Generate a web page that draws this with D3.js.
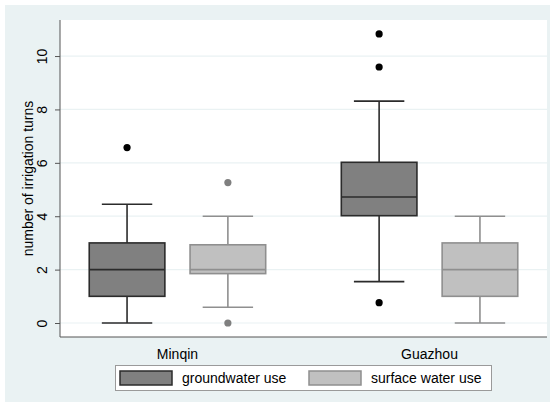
<!DOCTYPE html>
<html><head><meta charset="utf-8">
<script src="https://cdn.jsdelivr.net/npm/d3@7"></script>
<style>body{margin:0;background:#fff}svg{display:block}text{font-family:"Liberation Sans",Arial,sans-serif}</style>
</head><body>
<script>
const categories = ["Minqin", "Guazhou"];
const seriesNames = ["groundwater use", "surface water use"];
// [min whisker, q1, median, q3, max whisker]
const groundwater = [[0, 1, 2, 3, 4.45], [1.55, 4.02, 4.72, 6.02, 8.31]];
const surfacewater = [[0.59, 1.85, 2.0, 2.93, 4.0], [0, 1, 2, 3, 4]];
const groundwaterOutliers = [[6.57], [10.83, 9.59, 0.76]];
const surfacewaterOutliers = [[5.26, 0], []];
const yTicks = [0, 2, 4, 6, 8, 10];
const yTitle = "number of irrigation turns";

(function(){
const W = 557, H = 407;
const svg = d3.select("body").append("svg").attr("width", W).attr("height", H);
const bg = "#eaf2f3";
svg.append("rect").attr("x", 5).attr("y", 5).attr("width", 545).attr("height", 397).attr("fill", bg);

const pl = 60, pr = 547, pt = 20, pb = 337;
svg.append("rect").attr("x", pl).attr("y", pt).attr("width", pr - pl).attr("height", pb - pt).attr("fill", "#fff");

const y = d3.scaleLinear().domain([-0.524, 11.35]).range([pb, pt]);
const x = d3.scalePoint().domain(categories).range([pl, pr]).padding(0.466);
const step = x.step();
const off = step * 0.2, bw = step * 0.3, cw = step * 0.2;

// gridlines
svg.append("g").selectAll("line").data(yTicks).join("line")
  .attr("x1", pl).attr("x2", pr).attr("y1", d => y(d)).attr("y2", d => y(d))
  .attr("stroke", bg).attr("stroke-width", 1.2);

// y axis
const yAxis = d3.axisLeft(y).tickValues(yTicks).tickSize(5).tickFormat(d3.format("d"));
const ga = svg.append("g").attr("transform", `translate(${pl},0)`).call(yAxis);
ga.select(".domain").attr("stroke", "#555").attr("d", `M0,${pt}V${pb}`);
ga.selectAll(".tick line").attr("stroke", "#555");
ga.selectAll(".tick text").attr("font-size", 14).attr("fill", "#000").attr("font-family", "Liberation Sans, Arial, sans-serif")
  .attr("transform", "rotate(-90)").attr("text-anchor", "middle")
  .attr("x", 0).attr("y", -13).attr("dy", 0);

// x axis
const xa = svg.append("g").attr("transform", `translate(0,${pb})`);
xa.append("line").attr("x1", pl).attr("x2", pr).attr("stroke", "#555");
xa.selectAll("text").data(categories).join("text")
  .attr("x", d => x(d)).attr("y", 22).attr("text-anchor", "middle").attr("font-size", 14).text(d => d);

// y title
svg.append("text").attr("transform", `translate(33,${(pt + pb) / 2}) rotate(-90)`)
  .attr("text-anchor", "middle").attr("font-size", 14).text(yTitle);

const styles = [
  {data: groundwater, out: groundwaterOutliers, dx: -off, fill: "#808080", stroke: "#2b2b2b", dot: "#000"},
  {data: surfacewater, out: surfacewaterOutliers, dx: off, fill: "#c0c0c0", stroke: "#8f8f8f", dot: "#7f7f7f"}
];

styles.forEach(s => {
  const g = svg.append("g");
  categories.forEach((c, i) => {
    const [lo, q1, med, q3, hi] = s.data[i];
    const cx = x(c) + s.dx;
    g.append("line").attr("x1", cx).attr("x2", cx).attr("y1", y(hi)).attr("y2", y(q3)).attr("stroke", s.stroke).attr("stroke-width", 1.6);
    g.append("line").attr("x1", cx).attr("x2", cx).attr("y1", y(q1)).attr("y2", y(lo)).attr("stroke", s.stroke).attr("stroke-width", 1.6);
    [lo, hi].forEach(v => g.append("line").attr("x1", cx - cw / 2).attr("x2", cx + cw / 2).attr("y1", y(v)).attr("y2", y(v)).attr("stroke", s.stroke).attr("stroke-width", 1.6));
    g.append("rect").attr("x", cx - bw / 2).attr("width", bw).attr("y", y(q3)).attr("height", y(q1) - y(q3))
      .attr("fill", s.fill).attr("stroke", s.stroke).attr("stroke-width", 1.6);
    g.append("line").attr("x1", cx - bw / 2).attr("x2", cx + bw / 2).attr("y1", y(med)).attr("y2", y(med)).attr("stroke", s.stroke).attr("stroke-width", 1.6);
    s.out[i].forEach(v => g.append("circle").attr("cx", cx).attr("cy", y(v)).attr("r", 3.6).attr("fill", s.dot));
  });
});

// legend
const lg = svg.append("g");
lg.append("rect").attr("x", 115.5).attr("y", 365.5).attr("width", 376).attr("height", 25).attr("fill", "#fff").attr("stroke", "#9a9a9a");
const lx = [120, 309];
seriesNames.forEach((n, i) => {
  lg.append("rect").attr("x", lx[i]).attr("y", 371).attr("width", 52).attr("height", 14)
    .attr("fill", styles[i].fill).attr("stroke", styles[i].stroke).attr("stroke-width", 1.5);
  lg.append("text").attr("x", lx[i] + 62).attr("y", 383).attr("font-size", 14).text(n);
});
})();
</script>
</body></html>
